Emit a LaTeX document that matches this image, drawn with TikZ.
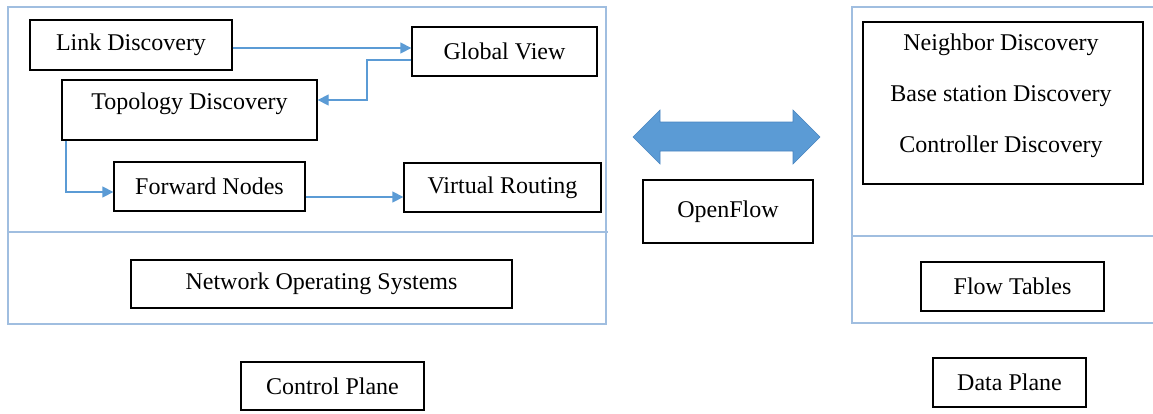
\documentclass[tikz,border=0pt]{standalone}
\usepackage{fontspec}
\setmainfont{Liberation Serif}
\usetikzlibrary{arrows.meta}
\definecolor{frameblue}{RGB}{160,190,224}
\definecolor{lineblue}{RGB}{91,155,213}
\definecolor{arrowedge}{RGB}{72,132,192}
\begin{document}
\begin{tikzpicture}[x=1pt,y=-1pt,
  box/.style={draw=black, line width=1.3pt, inner sep=0pt, font=\fontsize{24}{28}\selectfont},
  frame/.style={draw=frameblue, line width=2.2pt},
  divider/.style={draw=frameblue, line width=1.6pt},
  link/.style={draw=lineblue, line width=1.3pt, -{Triangle[length=11pt,width=11pt]}},
  txt/.style={inner sep=0pt, font=\fontsize{24}{28}\selectfont}]
\useasboundingbox (0,0) rectangle (1153,413);

% frames
\draw[frame] (8,7) rectangle (606,324);
\draw[divider] (8,232) -- (608,232);
\draw[frame] (1160,7) -- (852,7) -- (852,323) -- (1160,323);
\draw[divider] (852,236) -- (1160,236);

% control plane boxes
\node[box, minimum width=202, minimum height=50] (ld) at (131,45) {Link Discovery};
\node[box, minimum width=185, minimum height=49] (gv) at (504.5,51.5) {Global View};
\node[box, minimum width=255, minimum height=60, text height=20pt, text depth=22pt] (td) at (189.5,110) {Topology Discovery};
\node[box, minimum width=191, minimum height=49] (fn) at (209.5,186.5) {Forward Nodes};
\node[box, minimum width=197, minimum height=49] (vr) at (502.5,187.5) {Virtual Routing};
\node[box, minimum width=381, minimum height=48] (nos) at (321.5,284) {Network Operating Systems};
\node[box, minimum width=183, minimum height=48] (cp) at (332.5,386) {Control Plane};

% openflow
\node[box, minimum width=170, minimum height=63] (of) at (728,211.5) {OpenFlow};
\fill[lineblue, draw=arrowedge, line width=0.6pt]
  (633,137) -- (660,110) -- (660,122) -- (793,122) -- (793,110) -- (820,137)
  -- (793,164) -- (793,151) -- (660,151) -- (660,164) -- cycle;

% data plane
\node[box, minimum width=280, minimum height=162] (db) at (1003,103) {};
\node[txt] (nd) at (1001,45) {Neighbor Discovery};
\node[txt] (bsd) at (1001,96) {Base station Discovery};
\node[txt] (cd) at (1001,147) {Controller Discovery};
\node[box, minimum width=183, minimum height=49] (ft) at (1012.5,286.5) {Flow Tables};
\node[box, minimum width=153, minimum height=49] (dp) at (1009.5,382.5) {Data Plane};

% connectors
\draw[link] ([yshift=-3pt]ld.east) -- ([yshift=-3pt]ld.east -| gv.west);
\coordinate (b1) at (367,60);
\coordinate (b2) at (367,100);
\draw[link] ([yshift=-8.5pt]gv.west) -- (b1) -- (b2) -- (b2 -| td.east);
\draw[link] ([xshift=4.5pt]td.south west) |- ([yshift=-5.5pt]fn.west);
\draw[link] ([yshift=-10.5pt]fn.east) -- ([yshift=-10.5pt]fn.east -| vr.west);
\end{tikzpicture}
\end{document}
